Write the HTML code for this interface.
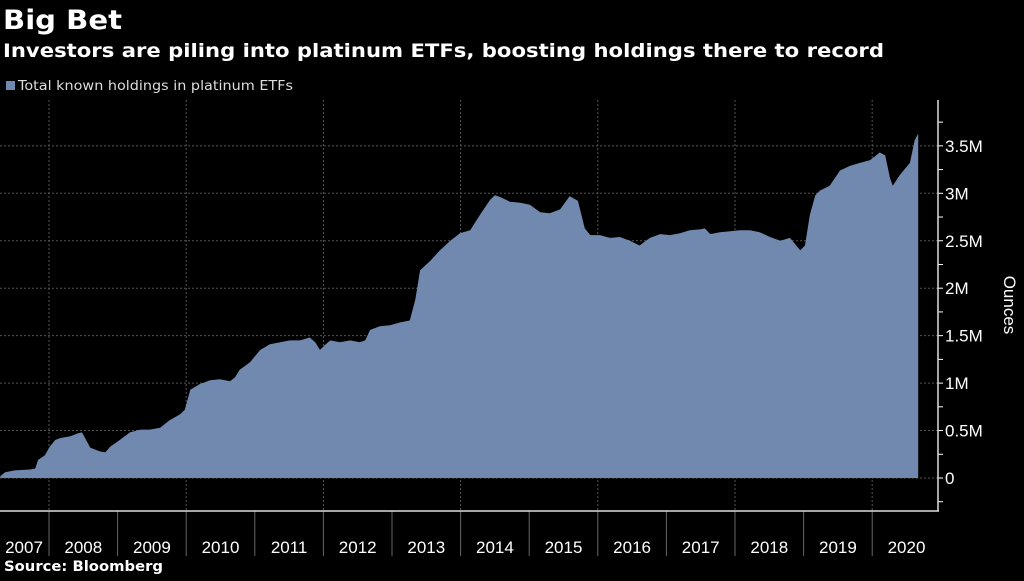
<!DOCTYPE html>
<html><head><meta charset="utf-8"><style>
body{margin:0;background:#000;width:1024px;height:576px;overflow:hidden;font-family:"Liberation Sans",sans-serif;color:#fff}
</style></head><body>
<svg width="1024" height="576" xmlns="http://www.w3.org/2000/svg">
<text x="3" y="29" font-size="27" font-weight="bold" font-family="DejaVu Sans, sans-serif" textLength="119" lengthAdjust="spacingAndGlyphs" fill="#fff">Big Bet</text>
<text x="3" y="57" font-size="19" font-weight="bold" font-family="DejaVu Sans, sans-serif" textLength="881" lengthAdjust="spacingAndGlyphs" fill="#fff">Investors are piling into platinum ETFs, boosting holdings there to record</text>
<rect x="6" y="81" width="9" height="9" fill="#7189ae"/>
<text x="18" y="90" font-size="13" font-family="DejaVu Sans, sans-serif" textLength="275" lengthAdjust="spacingAndGlyphs" fill="#ddd">Total known holdings in platinum ETFs</text>
<g id="grid"></g><g id="area"></g><g id="axes"></g>
<text transform="translate(1004,305) rotate(90)" text-anchor="middle" font-size="17" fill="#fff">Ounces</text>
<text x="4" y="571" font-size="14" font-weight="bold" font-family="DejaVu Sans, sans-serif" textLength="159" lengthAdjust="spacingAndGlyphs" fill="#fff">Source: Bloomberg</text>
</svg>
<script>
const dates=[2007.29,2007.36,2007.50,2007.72,2007.80,2007.84,2007.94,2008.01,2008.09,2008.16,2008.31,2008.42,2008.48,2008.52,2008.60,2008.67,2008.74,2008.82,2008.89,2009.03,2009.18,2009.33,2009.47,2009.62,2009.76,2009.91,2009.98,2010.06,2010.20,2010.35,2010.49,2010.64,2010.71,2010.78,2010.93,2011.08,2011.22,2011.37,2011.51,2011.66,2011.80,2011.88,2011.95,2012.02,2012.10,2012.24,2012.39,2012.53,2012.61,2012.68,2012.82,2012.97,2013.12,2013.26,2013.34,2013.41,2013.56,2013.70,2013.85,2013.99,2014.14,2014.28,2014.43,2014.50,2014.58,2014.72,2014.87,2015.01,2015.16,2015.30,2015.45,2015.59,2015.71,2015.81,2015.89,2016.03,2016.18,2016.32,2016.47,2016.61,2016.76,2016.91,2017.05,2017.20,2017.34,2017.49,2017.56,2017.64,2017.78,2017.93,2018.07,2018.22,2018.36,2018.51,2018.66,2018.80,2018.95,2019.02,2019.09,2019.17,2019.24,2019.38,2019.53,2019.68,2019.82,2019.97,2020.11,2020.19,2020.26,2020.30,2020.40,2020.48,2020.55,2020.62,2020.67];
const holdings=[0.02,0.06,0.08,0.09,0.10,0.19,0.24,0.33,0.40,0.42,0.44,0.47,0.48,0.43,0.32,0.30,0.28,0.27,0.33,0.40,0.48,0.51,0.51,0.53,0.61,0.67,0.72,0.93,0.99,1.03,1.04,1.02,1.06,1.14,1.22,1.35,1.41,1.43,1.45,1.45,1.48,1.43,1.35,1.40,1.45,1.43,1.45,1.43,1.45,1.56,1.60,1.61,1.64,1.66,1.88,2.19,2.29,2.40,2.50,2.58,2.61,2.77,2.93,2.98,2.96,2.91,2.90,2.88,2.80,2.79,2.83,2.97,2.92,2.63,2.56,2.56,2.53,2.54,2.50,2.45,2.53,2.57,2.56,2.58,2.61,2.62,2.63,2.57,2.59,2.60,2.61,2.61,2.59,2.54,2.50,2.53,2.40,2.45,2.77,2.98,3.03,3.08,3.24,3.29,3.32,3.35,3.43,3.40,3.16,3.08,3.19,3.26,3.32,3.56,3.63];
const years=[2007,2008,2009,2010,2011,2012,2013,2014,2015,2016,2017,2018,2019,2020];
const yTicks=[0,0.5,1,1.5,2,2.5,3,3.5];
const yTickLabels=["0","0.5M","1M","1.5M","2M","2.5M","3M","3.5M"];
const NS="http://www.w3.org/2000/svg";
const X=t=>-19.6+(t-2007)*68.6;
const Y=v=>478-v*94.9;
function mk(tag,attrs,parent){const e=document.createElementNS(NS,tag);for(const k in attrs)e.setAttribute(k,attrs[k]);parent.appendChild(e);return e;}
const grid=document.getElementById('grid'),area=document.getElementById('area'),axes=document.getElementById('axes');
yTicks.forEach((v,i)=>{
 const l=mk('line',{x1:0,x2:938,y1:Y(v),y2:Y(v),stroke:'#555','stroke-dasharray':'2,2','stroke-width':1},grid);
 
 
 const t=mk('text',{x:945,y:Y(v)+6,'font-size':17,fill:'#fff'},axes);
 t.textContent=yTickLabels[i];
 
 
});
for(let v=-0.25;v<=3.9;v+=0.25){
 const tk=mk('line',{x1:938,x2:943,y1:Y(v),y2:Y(v),stroke:'#fff','stroke-width':1},axes);
 
 
}
years.forEach((yr,i)=>{
 const x=X(yr),cx=X(yr+0.5);
 if(yr>2007){
  const s=mk('line',{x1:x,x2:x,y1:511,y2:556,stroke:'#666','stroke-width':1},axes);
  
  
  if((yr-2008)%2===0){
   const g=mk('line',{x1:x,x2:x,y1:100,y2:511,stroke:'#555','stroke-dasharray':'2,2','stroke-width':1},grid);
   
   
  }
 }
 const t=mk('text',{x:Math.max(cx,24),y:553,'font-size':17,fill:'#fff','text-anchor':'middle'},axes);
 t.textContent=yr;
 
 
});
let d='M'+X(dates[0])+','+Y(0);
dates.forEach((t,i)=>{d+=' L'+X(t).toFixed(1)+','+Y(holdings[i]).toFixed(1);});
d+=' L'+X(dates[dates.length-1]).toFixed(1)+','+Y(0)+' Z';
const p=mk('path',{d:d,fill:'#7189ae'},area);


const xa=mk('line',{x1:0,x2:939,y1:511,y2:511,stroke:'#ddd','stroke-width':1.5},axes);


const ya=mk('line',{x1:938,x2:938,y1:100,y2:511,stroke:'#ddd','stroke-width':1.5},axes);


</script>
</body></html>
